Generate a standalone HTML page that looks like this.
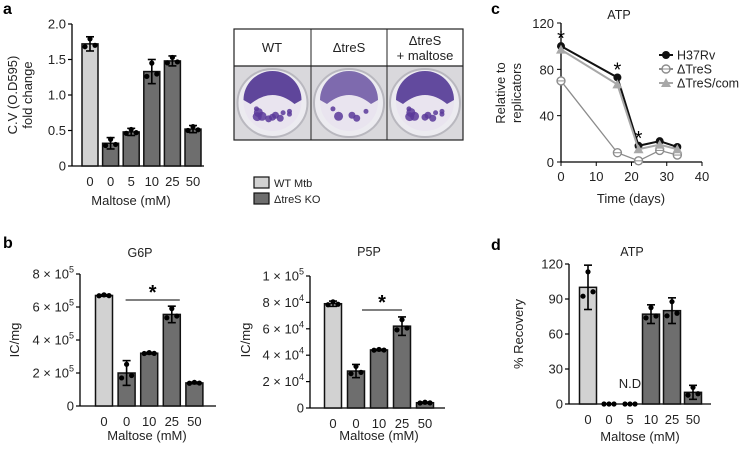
<!DOCTYPE html>
<html><head><meta charset="utf-8"><style>
body{margin:0;background:#fff}
svg{display:block;font-family:"Liberation Sans",Arial,sans-serif}
</style></head><body>
<svg id="fig" width="740" height="454" viewBox="0 0 740 454">
<g id="root"></g>
</svg>
<script>
// Panel a data
const aCats=["0","0","5","10","25","50"];
const aVals=[1.72,0.32,0.48,1.33,1.48,0.52];
const aErr=[0.1,0.08,0.05,0.17,0.07,0.05];
const aTicks=[0,0.5,1.0,1.5,2.0];
const aTickLabels=["0","0.5","1.0","1.5","2.0"];
// Panel b G6P
const gCats=["0","0","10","25","50"];
const gVals=[6.7,2.0,3.2,5.55,1.4];
const gErr=[0.05,0.75,0.05,0.5,0.05];
const gTicks=[0,2,4,6,8];
const gTickLabels=["0","2 × 10","4 × 10","6 × 10","8 × 10"];
// Panel b P5P
const pCats=["0","0","10","25","50"];
const pVals=[79,28,44,62,4];
const pErr=[2,5,0.5,7,0.5];
const pTicks=[0,20,40,60,80,100];
const pTickLabels=["0","2 × 10","4 × 10","6 × 10","8 × 10","1 × 10"];
// Panel d
const dCats=["0","0","5","10","25","50"];
const dVals=[100,0,0,77,80,10];
const dErr=[19,0,0,8,11,6];
const dTicks=[0,30,60,90,120];
const dTickLabels=["0","30","60","90","120"];
// Panel c
const cDays=[0,16,22,28,33];
const cH37=[100,73,14,18,13];
const cTreS=[70,8,1,10,6];
const cCom=[97,67,11,15,11];
const cXTicks=[0,10,20,30,40];
const cYTicks=[0,40,80,120];

const NS="http://www.w3.org/2000/svg";
const root=document.getElementById('root');
function el(tag,attrs,parent,text){const e=document.createElementNS(NS,tag);for(const k in attrs)e.setAttribute(k,attrs[k]);if(text!==undefined)e.textContent=text;(parent||root).appendChild(e);return e;}

function barPanel(o){
  const g=el('g',{});
  
  
  const y=v=>o.y0-(v-o.vmin)/(o.vmax-o.vmin)*(o.y0-o.y1);
  const x=i=>o.x0c+i*o.step;
  const ya=el('line',{x1:o.ax,y1:o.y1,x2:o.ax,y2:o.y0,stroke:'#000','stroke-width':1.3},g);
  
  const xa=el('line',{x1:o.ax,y1:o.y0,x2:o.axEnd,y2:o.y0,stroke:'#000','stroke-width':1.3},g);
  
  o.ticks.forEach((t,i)=>{
    el('line',{x1:o.ax-4,y1:y(t),x2:o.ax,y2:y(t),stroke:'#000','stroke-width':1.2},g);
    const tx=el('text',{x:o.ax-6,y:y(t)+4.5,'text-anchor':'end','font-size':o.fs||13,fill:'#222'},g,o.tickLabels[i]);
    
    if(o.exps){el('tspan',{dy:-6,'font-size':9},tx,o.exps[i]);}
  });
  o.vals.forEach((v,i)=>{
    const light=o.light.includes(i);
    if(v>0){
      const r=el('rect',{x:x(i)-o.bw/2,y:y(v),width:o.bw,height:o.y0-y(v),fill:light?'#d2d2d2':'#6e6e6e',stroke:'#111','stroke-width':1.5},g);
      
    }
    const e=o.err[i];
    if(e>0){
      el('line',{x1:x(i),y1:y(v+e),x2:x(i),y2:y(v-e),stroke:'#000','stroke-width':1.6},g);
      el('line',{x1:x(i)-4,y1:y(v+e),x2:x(i)+4,y2:y(v+e),stroke:'#000','stroke-width':1.6},g);
      el('line',{x1:x(i)-4,y1:y(v-e),x2:x(i)+4,y2:y(v-e),stroke:'#000','stroke-width':1.6},g);
    }
    [-5,0,5].forEach((dx,j)=>{const dy=e>0?[-0.4,0.7,-0.2][j]*e:0;
      el('circle',{cx:x(i)+dx,cy:y(v+dy),r:2.6,fill:'#000'},g);});
    const lt=el('text',{x:x(i),y:o.y0+o.labDy,'text-anchor':'middle','font-size':o.fs||13,fill:'#222'},g,o.cats[i]);
    
  });
  return {g,x,y};
}

const A=barPanel({name:'panel-a-chart',ax:72,axEnd:204,y0:166,y1:24,vmin:0,vmax:2,x0c:90,step:20.6,bw:16,
  vals:aVals,err:aErr,cats:aCats,ticks:aTicks,tickLabels:aTickLabels,light:[0],labDy:20,fs:13});
const G=barPanel({name:'panel-b-g6p-chart',ax:80,axEnd:216,y0:406,y1:274,vmin:0,vmax:8,x0c:104,step:22.6,bw:17,
  vals:gVals,err:gErr,cats:gCats,ticks:gTicks,tickLabels:gTickLabels,exps:["","5","5","5","5"],light:[0],labDy:20,fs:13});
const P=barPanel({name:'panel-b-p5p-chart',ax:310,axEnd:445,y0:408,y1:276,vmin:0,vmax:100,x0c:333,step:23,bw:17,
  vals:pVals,err:pErr,cats:pCats,ticks:pTicks,tickLabels:pTickLabels,exps:["","4","4","4","4","5"],light:[0],labDy:20,fs:13});
const D=barPanel({name:'panel-d-chart',ax:569,axEnd:711,y0:404,y1:264,vmin:0,vmax:120,x0c:588,step:21,bw:17,
  vals:dVals,err:dErr,cats:dCats,ticks:dTicks,tickLabels:dTickLabels,light:[0],labDy:20,fs:13});

function sig(x1,x2,yy,name){const l=el('line',{x1:x1,y1:yy,x2:x2,y2:yy,stroke:'#000','stroke-width':1});
 
 el('text',{x:(x1+x2)/2,y:yy-1,'text-anchor':'middle','font-size':20,'font-weight':'bold'},root,'*');}
sig(G.x(1)-1,G.x(3)+8,300,'g6p-significance-bar');
sig(P.x(1)+6,P.x(3),310,'p5p-significance-bar');

(function(){
  const ax=561,y0=162,y1=23,xr=702;
  const xs=d=>ax+d/40*(xr-ax);
  const ys=v=>y0-v/120*(y0-y1);
  const g=el('g',{});
  el('line',{x1:ax,y1:y1,x2:ax,y2:y0,stroke:'#000','stroke-width':1.3},g);
  el('line',{x1:ax,y1:y0,x2:xr,y2:y0,stroke:'#000','stroke-width':1.3},g);
  cYTicks.forEach(t=>{el('line',{x1:ax-4,y1:ys(t),x2:ax,y2:ys(t),stroke:'#000'},g);
    const tt=el('text',{x:ax-7,y:ys(t)+5,'text-anchor':'end','font-size':13,fill:'#222'},g,String(t));
    });
  cXTicks.forEach(t=>{el('line',{x1:xs(t),y1:y0,x2:xs(t),y2:y0+4,stroke:'#000'},g);
    const tt=el('text',{x:xs(t),y:y0+19,'text-anchor':'middle','font-size':13,fill:'#222'},g,String(t));
    });
  function series(vals,color,marker,name){
    const pl=el('polyline',{points:cDays.map((d,i)=>xs(d)+','+ys(vals[i])).join(' '),fill:'none',stroke:color,'stroke-width':marker==='open'?1.3:2},g);
    
    cDays.forEach((d,i)=>drawMarker(xs(d),ys(vals[i]),marker,color,g));
  }
  series(cTreS,'#8c8c8c','open','dtres');
  series(cH37,'#111','dot','h37rv');
  series(cCom,'#a8a8a8','tri','dtres-com');
  [[0,cH37[0]],[16,cH37[1]],[22,cH37[2]]].forEach(p=>el('text',{x:xs(p[0]),y:ys(p[1])-1,'text-anchor':'middle','font-size':20},g,'*'));
  const lg=[['H37Rv','#111','dot'],['ΔTreS','#8c8c8c','open'],['ΔTreS/com','#a8a8a8','tri']];
  lg.forEach((L,i)=>{const yy=55+i*14;
    const it=el('g',{},g);
    el('line',{x1:659,y1:yy,x2:673,y2:yy,stroke:L[1],'stroke-width':2},it);
    drawMarker(666,yy,L[2],L[1],it);
    el('text',{x:677,y:yy+4.5,'font-size':12.5,fill:'#222'},it,L[0]);});
})();
function drawMarker(cx,cy,m,c,p){
  if(m==='dot')el('circle',{cx:cx,cy:cy,r:4,fill:c},p);
  else if(m==='open'){el('circle',{cx:cx,cy:cy,r:4,fill:'#fff',stroke:c,'stroke-width':1.4},p);el('line',{x1:cx-4,y1:cy,x2:cx+4,y2:cy,stroke:c,'stroke-width':1},p);}
  else el('polygon',{points:`${cx},${cy-5} ${cx-5},${cy+4} ${cx+5},${cy+4}`,fill:c},p);
}

function txt(x,y,s,attrs,name){const a=Object.assign({x:x,y:y,fill:'#222'},attrs);const t=el('text',a,root,s);
  return t;}
txt(3,14,'a',{'font-size':16,'font-weight':'bold',fill:'#000'},'panel-a-letter');
txt(3,248,'b',{'font-size':16,'font-weight':'bold',fill:'#000'},'panel-b-letter');
txt(491,14,'c',{'font-size':16,'font-weight':'bold',fill:'#000'},'panel-c-letter');
txt(491,250,'d',{'font-size':16,'font-weight':'bold',fill:'#000'},'panel-d-letter');
txt(0,0,'C.V (O.D595)',{'font-size':13,'text-anchor':'middle',transform:'translate(17,95) rotate(-90)'},'panel-a-y-title');
txt(0,0,'fold change',{'font-size':13,'text-anchor':'middle',transform:'translate(32,95) rotate(-90)'},'panel-a-y-title-2');
txt(131,205,'Maltose (mM)',{'font-size':13,'text-anchor':'middle'},'panel-a-x-title');
txt(147,440,'Maltose (mM)',{'font-size':13,'text-anchor':'middle'},'g6p-x-title');
txt(379,440,'Maltose (mM)',{'font-size':13,'text-anchor':'middle'},'p5p-x-title');
txt(640,441,'Maltose (mM)',{'font-size':13,'text-anchor':'middle'},'panel-d-x-title');
txt(631,203,'Time (days)',{'font-size':13,'text-anchor':'middle'},'panel-c-x-title');
txt(0,0,'IC/mg',{'font-size':13,'text-anchor':'middle',transform:'translate(19,340) rotate(-90)'},'g6p-y-title');
txt(0,0,'IC/mg',{'font-size':13,'text-anchor':'middle',transform:'translate(250,340) rotate(-90)'},'p5p-y-title');
txt(0,0,'% Recovery',{'font-size':13,'text-anchor':'middle',transform:'translate(523,334) rotate(-90)'},'panel-d-y-title');
txt(0,0,'Relative to',{'font-size':13,'text-anchor':'middle',transform:'translate(505,93) rotate(-90)'},'panel-c-y-title');
txt(0,0,'replicators',{'font-size':13,'text-anchor':'middle',transform:'translate(521,93) rotate(-90)'},'panel-c-y-title-2');
txt(619,19,'ATP',{'font-size':12.5,'text-anchor':'middle'},'panel-c-title');
txt(632,256,'ATP',{'font-size':12.5,'text-anchor':'middle'},'panel-d-title');
txt(140,257,'G6P',{'font-size':12.5,'text-anchor':'middle'},'g6p-title');
txt(369,256,'P5P',{'font-size':12.5,'text-anchor':'middle'},'p5p-title');
txt(630,388,'N.D',{'font-size':13,'text-anchor':'middle'},'not-detected-label');

[['WT Mtb','#d2d2d2',186],['ΔtreS KO','#6e6e6e',202]].forEach(L=>{
  const g=el('g',{});
  el('rect',{x:254,y:L[2]-9,width:15,height:11,fill:L[1],stroke:'#111','stroke-width':1.2},g);
  el('text',{x:274,y:L[2]+1,'font-size':11,fill:'#222'},g,L[0]);});

(function(){
  const g=el('g',{});
  const x0=234,x1=463,yh=29,ym=66,yb=140;
  const cols=[234,311,387,463];
  const dens=[0.75,0.35,0.7];
  for(let i=0;i<3;i++){
    const cx=(cols[i]+cols[i+1])/2;
    el('rect',{x:cols[i],y:ym,width:cols[i+1]-cols[i],height:yb-ym,fill:'#d9d8dc'},g);
    el('ellipse',{cx:cx,cy:103,rx:35,ry:34,fill:'#ecebf0',stroke:'#b9b8bf','stroke-width':2},g);
    el('ellipse',{cx:cx,cy:102,rx:29,ry:29,fill:'#e9e4ef'},g);
    el('path',{d:`M${cx-29},${100} A29 29 0 0 1 ${cx+29},${100} L${cx+22},${104} Q${cx},${86} ${cx-22},${104} Z`,fill:'#4a2f8f',opacity:0.5+dens[i]*0.5},g);
    for(let k=0;k<Math.round(dens[i]*14);k++){
      const ang=Math.PI*(0.15+0.7*((k*37)%14)/14);
      const rr=18+((k*7)%9);
      el('circle',{cx:cx-Math.cos(ang)*rr,cy:104+Math.sin(ang)*rr*0.6,r:2.5+(k%3),fill:'#5a3a9a',opacity:0.85},g);
    }
  }
  el('rect',{x:x0,y:yh,width:x1-x0,height:yb-yh,fill:'none',stroke:'#222','stroke-width':1.2},g);
  el('line',{x1:x0,y1:ym,x2:x1,y2:ym,stroke:'#222','stroke-width':1.2},g);
  el('line',{x1:311,y1:yh,x2:311,y2:yb,stroke:'#222','stroke-width':1},g);
  el('line',{x1:387,y1:yh,x2:387,y2:yb,stroke:'#222','stroke-width':1},g);
  el('text',{x:272,y:52,'text-anchor':'middle','font-size':13,fill:'#222'},g,'WT');
  el('text',{x:349,y:52,'text-anchor':'middle','font-size':13,fill:'#222'},g,'ΔtreS');
  el('text',{x:425,y:45,'text-anchor':'middle','font-size':13,fill:'#222'},g,'ΔtreS');
  el('text',{x:425,y:60,'text-anchor':'middle','font-size':13,fill:'#222'},g,'+ maltose');
})();
</script>
</body></html>
